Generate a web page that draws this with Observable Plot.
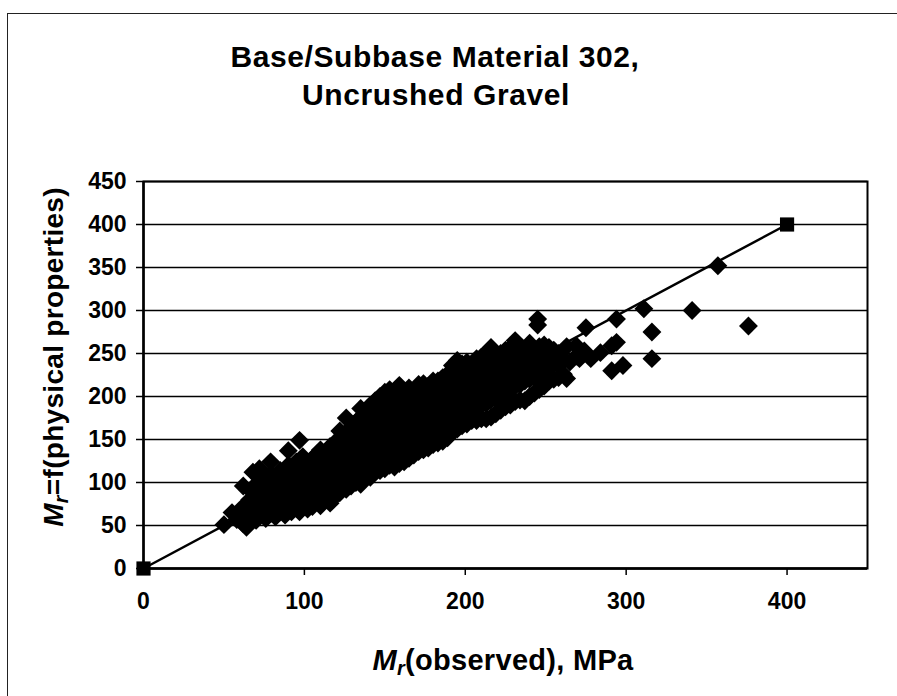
<!DOCTYPE html>
<html>
<head>
<meta charset="utf-8">
<script src="https://cdn.jsdelivr.net/npm/d3@7"></script>
<script src="https://cdn.jsdelivr.net/npm/@observablehq/plot@0.6"></script>
<style>
  body { margin: 0; background: #fff; }
  #wrap { position: relative; width: 897px; height: 696px; overflow: hidden; background: #fff; }
  #border { position: absolute; left: 7px; top: 13px; width: 1000px; height: 1000px; border: 1.5px solid #222; box-sizing: border-box; }
  #chart { position: absolute; left: 0; top: 0; }
</style>
</head>
<body>
<div id="wrap"><div id="border"></div><div id="chart"></div></div>
<script>
// Title and axis labels
const titleLines = ["Base/Subbase Material 302,", "Uncrushed Gravel"];
const xLabelParts = ["M", "r", "(observed), MPa"];
const yLabelParts = ["M", "r", "=f(physical properties)"];

// Ticks
const xTicks = [0, 100, 200, 300, 400];
const yTicks = [0, 50, 100, 150, 200, 250, 300, 350, 400, 450];

// Line of equality (y = x) with square end markers
const lineObserved = [0, 400];
const linePredicted = [0, 400];

// Scatter: each entry = [observed Mr, [predicted Mr values at that observed Mr]]
const scatterColumns = [
  [50, [51]], [55, [65]], [58, [57]], [62, [96, 52, 62, 72]], [64, [48]],
  [66, [58, 68, 80]], [68, [112, 88]], [70, [56, 66, 76, 98]], [72, [116, 84, 62]],
  [74, [70, 92, 104]], [76, [58, 80]], [79, [124, 64, 74, 86, 98, 110]],
  [82, [60, 92, 104, 70]], [85, [66, 78, 88, 100, 114]], [88, [62, 72, 84, 96, 108]],
  [90, [137, 120]], [92, [66, 78, 90, 102, 114]], [95, [70, 84, 96, 108, 124]],
  [97, [149, 66]], [99, [76, 90, 102, 116, 130]], [102, [69, 84, 96, 110, 122]],
  [105, [72, 88, 100, 114, 128]], [108, [78, 92, 106, 118, 133]],
  [110, [73, 86, 98, 124, 138]], [113, [80, 94, 108, 120, 132]],
  [116, [76, 90, 102, 116, 128, 142]], [119, [84, 98, 110, 124, 136, 146]],
  [122, [88, 100, 114, 128, 140, 160, 152]], [126, [175, 92, 106, 118, 132, 146, 158]],
  [129, [96, 110, 124, 138, 150, 164]], [132, [100, 114, 128, 142, 156, 170]],
  [135, [98, 106, 120, 134, 148, 162, 176, 186]], [138, [110, 124, 138, 152, 166, 180]],
  [141, [106, 116, 130, 144, 158, 172, 190]], [144, [112, 122, 136, 150, 164, 178, 195]],
  [147, [114, 128, 142, 156, 170, 184, 200]], [150, [116, 130, 144, 158, 172, 186, 205]],
  [153, [120, 134, 148, 162, 176, 192, 208]], [156, [118, 126, 140, 154, 168, 182, 196]],
  [159, [122, 132, 146, 160, 174, 188, 202, 213]], [162, [124, 138, 152, 166, 180, 194, 206]],
  [165, [128, 142, 156, 170, 184, 198, 210]], [168, [132, 146, 160, 174, 188, 202]],
  [171, [136, 150, 164, 178, 192, 206, 214]], [174, [138, 152, 166, 180, 194, 208, 215]],
  [177, [140, 156, 170, 184, 198, 212]], [180, [144, 158, 172, 186, 200, 214, 218]],
  [183, [146, 160, 176, 190, 204, 218]], [186, [148, 164, 178, 192, 206, 222]],
  [189, [152, 166, 182, 196, 210, 226]], [192, [160, 170, 186, 200, 214, 230, 236]],
  [195, [162, 176, 190, 204, 218, 232, 242]], [198, [166, 180, 194, 208, 222, 238]],
  [201, [168, 184, 198, 212, 226, 240]], [204, [172, 186, 200, 214, 228, 238]],
  [207, [172, 188, 204, 218, 232, 244]], [210, [174, 190, 206, 220, 234, 246]],
  [213, [174, 192, 208, 224, 238, 250]], [216, [176, 196, 212, 228, 242, 257]],
  [219, [180, 198, 214, 230, 246]], [222, [184, 202, 218, 234, 250]],
  [225, [188, 204, 220, 236, 254]], [228, [190, 208, 224, 240, 256]],
  [231, [194, 212, 228, 244, 265]], [234, [196, 214, 230, 246, 258]],
  [237, [195, 218, 234, 250]], [240, [200, 220, 236, 252, 262]],
  [243, [204, 222, 238, 254]], [245, [283, 290]], [246, [208, 226, 242, 258]],
  [249, [212, 230, 246, 260]], [252, [218, 234, 250, 257]], [255, [220, 238, 254]],
  [258, [222, 236, 250]], [261, [226, 244]], [263, [221, 258]], [265, [240]],
  [269, [259, 247]], [271, [244]], [274, [253]], [275, [280]], [278, [244]],
  [284, [251]], [291, [259, 230]], [294, [263, 290]], [298, [236]],
  [311, [302]], [316, [275, 244]], [341, [300]], [357, [352]], [376, [282]]
];

const scatter = scatterColumns.flatMap(([obs, preds]) => preds.map(pred => ({obs, pred})));
const lineData = lineObserved.map((x, i) => ({x, y: linePredicted[i]}));

const FONT = "Liberation Sans, Arial, Helvetica, sans-serif";

const chart = Plot.plot({
  width: 897,
  height: 696,
  marginLeft: 143,
  marginRight: 30,
  marginTop: 181,
  marginBottom: 128,
  style: {fontFamily: FONT, fontSize: "23px", fontWeight: "bold", color: "#000", background: "transparent", overflow: "visible"},
  x: {domain: [0, 450], axis: null},
  y: {domain: [0, 450], axis: null},
  marks: [
    Plot.gridY(yTicks, {stroke: "#000", strokeOpacity: 1, strokeWidth: 1.5}),
    Plot.frame({stroke: "#000", strokeWidth: 2}),
    Plot.ruleX([0], {stroke: "#000", strokeWidth: 2.5}),
    Plot.ruleY([0], {stroke: "#000", strokeWidth: 2.5}),
    Plot.axisX(xTicks, {tickSize: 7, tickPadding: 17, strokeWidth: 1.5, label: null, fontSize: 23, fontWeight: "bold"}),
    Plot.axisY(yTicks, {tickSize: 7, tickPadding: 10, strokeWidth: 1.5, label: null, fontSize: 23, fontWeight: "bold"}),
    Plot.dot(scatter, {x: "obs", y: "pred", symbol: "diamond2", r: 8.5, fill: "#000"}),
    Plot.line(lineData, {x: "x", y: "y", stroke: "#000", strokeWidth: 2.5}),
    Plot.dot(lineData, {x: "x", y: "y", symbol: "square", r: 8, fill: "#000"})
  ]
});

document.getElementById("chart").appendChild(chart);

const svg = d3.select(chart);
const T = svg.append("g").attr("font-family", FONT).attr("font-weight", "bold").attr("fill", "#000");

// Title
T.append("text").attr("x", 435).attr("y", 67).attr("text-anchor", "middle")
  .attr("font-size", 30).attr("letter-spacing", 0.6).text(titleLines[0]);
T.append("text").attr("x", 436).attr("y", 105).attr("text-anchor", "middle")
  .attr("font-size", 30).attr("letter-spacing", 0.6).text(titleLines[1]);

// X label
const xl = T.append("text").attr("x", 503).attr("y", 670).attr("text-anchor", "middle")
  .attr("font-size", 29).attr("letter-spacing", 0.3);
xl.append("tspan").attr("font-style", "italic").text(xLabelParts[0]);
xl.append("tspan").attr("font-style", "italic").attr("font-size", 20).attr("dy", 5).text(xLabelParts[1]);
xl.append("tspan").attr("dy", -5).text(xLabelParts[2]);

// Y label
const yl = T.append("text").attr("transform", "translate(63,357) rotate(-90)").attr("text-anchor", "middle")
  .attr("font-size", 28).attr("letter-spacing", 0.3);
yl.append("tspan").attr("font-style", "italic").text(yLabelParts[0]);
yl.append("tspan").attr("font-style", "italic").attr("font-size", 20).attr("dy", 5).text(yLabelParts[1]);
yl.append("tspan").attr("dy", -5).text(yLabelParts[2]);
</script>
</body>
</html>
